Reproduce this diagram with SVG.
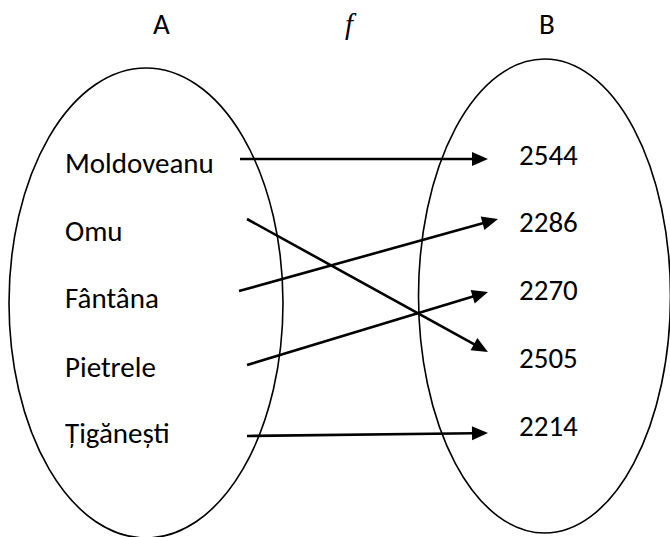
<svg xmlns="http://www.w3.org/2000/svg" width="670" height="537" viewBox="0 0 670 537">
<style>
.lbl{font-family:Carlito,"Open Sans",sans-serif;font-size:29px;fill:#000}
.set{fill:none;stroke:#000;stroke-width:1.6}
.arr{stroke:#000;stroke-width:2.6;fill:none;marker-end:url(#ah)}
</style>
<defs>
<marker id="ah" markerUnits="userSpaceOnUse" markerWidth="16" markerHeight="14" refX="2" refY="7" orient="auto" overflow="visible">
<path d="M0,0 L16,7 L0,14 z" fill="#000"/>
</marker>
</defs>
<rect width="670" height="537" fill="#fff"/>
<g id="setA">
<ellipse class="set" cx="146" cy="303" rx="137" ry="235"/>
<text class="lbl" x="153" y="34">A</text>
</g>
<g id="setB">
<ellipse class="set" cx="544.5" cy="296" rx="126" ry="237"/>
<text class="lbl" x="539" y="34">B</text>
</g>
<g id="fname">
<text x="345" y="34" style="font-family:'Liberation Serif',serif;font-style:italic;font-size:29px">f</text>
</g>
<g id="a1"><text class="lbl" x="65" y="173">Moldoveanu</text></g>
<g id="a2"><text class="lbl" x="65" y="241">Omu</text></g>
<g id="a3"><text class="lbl" x="65" y="308">Fântâna</text></g>
<g id="a4"><text class="lbl" x="65" y="377">Pietrele</text></g>
<g id="a5"><text class="lbl" x="65" y="443">Țigănești</text></g>
<g id="b1"><text class="lbl" x="519" y="165">2544</text></g>
<g id="b2"><text class="lbl" x="519" y="232">2286</text></g>
<g id="b3"><text class="lbl" x="519" y="300">2270</text></g>
<g id="b4"><text class="lbl" x="519" y="368">2505</text></g>
<g id="b5"><text class="lbl" x="519" y="436">2214</text></g>
<g id="connectors">
<line class="arr" x1="240" y1="159" x2="474" y2="159"/>
<line class="arr" x1="247" y1="219" x2="475.7" y2="345.2"/>
<line class="arr" x1="239" y1="291" x2="484.5" y2="222.8"/>
<line class="arr" x1="247" y1="365" x2="474.6" y2="296.1"/>
<line class="arr" x1="247" y1="436" x2="474" y2="433.2"/>
</g>
</svg>
